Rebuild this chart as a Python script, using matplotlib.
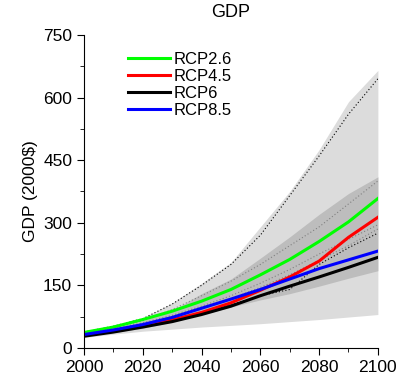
import matplotlib
matplotlib.use("Agg")
import matplotlib.pyplot as plt
import numpy as np
from matplotlib.ticker import MultipleLocator

plt.rcParams['font.family'] = ['Liberation Sans', 'DejaVu Sans']

years = [2000, 2010, 2020, 2030, 2040, 2050, 2060, 2070, 2080, 2090, 2100]

# scenario means
rcp26 = [37, 50, 68, 88, 112, 140, 175, 212, 255, 302, 358]
rcp45 = [30, 40, 52, 67, 85, 108, 138, 170, 208, 265, 313]
rcp6 = [28, 38, 50, 63, 80, 100, 125, 148, 170, 193, 217]
rcp85 = [32, 43, 56, 73, 95, 117, 140, 165, 190, 211, 232]

# full range (light) and inner range (dark)
full_lo = [25, 33, 40, 45, 50, 54, 58, 63, 68, 74, 80]
full_hi = [40, 52, 72, 108, 155, 205, 290, 375, 475, 590, 665]
inner_lo = [28, 37, 47, 62, 80, 98, 115, 130, 148, 167, 185]
inner_hi = [35, 48, 65, 90, 130, 165, 215, 266, 320, 370, 410]

# dotted individual runs
runs = [
    [38, 52, 70, 105, 150, 200, 270, 365, 460, 560, 645],
    [35, 48, 65, 92, 125, 160, 200, 245, 290, 345, 400],
    [33, 45, 60, 78, 100, 125, 155, 188, 225, 260, 295],
    [30, 42, 55, 73, 95, 118, 145, 175, 210, 245, 285],
    [29, 39, 51, 66, 84, 103, 125, 140, 200, 240, 275],
]
run_colors = ['black', 'gray', 'gray', 'gray', 'black']

fig = plt.figure(figsize=(4.02, 3.84), dpi=100)
ax = fig.add_axes([0.209, 0.094, 0.731, 0.815])

ax.fill_between(years, full_lo, full_hi, color='#dcdcdc', lw=0)
ax.fill_between(years, inner_lo, inner_hi, color='#bdbdbd', lw=0)
for r, c in zip(runs, run_colors):
    ax.plot(years, r, color=c, ls=(0, (1, 2)), lw=0.8)

ax.plot(years, rcp26, color='#00ff00', lw=2.2, label='RCP2.6')
ax.plot(years, rcp45, color='#ff0000', lw=2.2, label='RCP4.5')
ax.plot(years, rcp6, color='black', lw=2.2, label='RCP6')
ax.plot(years, rcp85, color='#0000ff', lw=2.2, label='RCP8.5')

ax.set_xlim(2000, 2100)
ax.set_ylim(0, 750)
ax.xaxis.set_major_locator(MultipleLocator(20))
ax.xaxis.set_minor_locator(MultipleLocator(10))
ax.yaxis.set_major_locator(MultipleLocator(150))
ax.yaxis.set_minor_locator(MultipleLocator(75))
ax.tick_params(which='both', direction='out', labelsize=12.5)
ax.tick_params(which='major', length=5)
ax.tick_params(which='minor', length=3)
ax.spines['top'].set_visible(False)
ax.spines['right'].set_visible(False)
ax.set_ylabel('GDP (2000$)', fontsize=12.5)
ax.set_title('GDP', fontsize=13, pad=13)

ax.legend(loc='upper left', bbox_to_anchor=(0.1, 0.995), frameon=False,
          fontsize=12, handlelength=2.5, handletextpad=0.2, labelspacing=0.12)

fig.savefig('out.png', dpi=100)
